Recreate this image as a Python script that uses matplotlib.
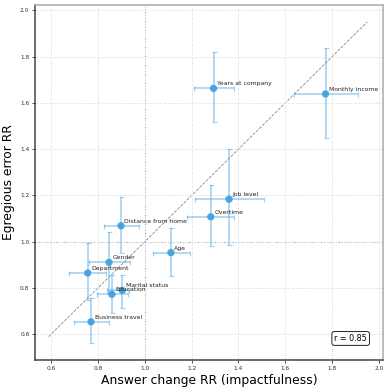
import matplotlib
matplotlib.use('Agg')
import matplotlib.pyplot as plt
import numpy as np
from matplotlib.ticker import MultipleLocator

# features, answer-change RR (x) and egregious-error RR (y) with CI bounds
features = ['Years at company', 'Monthly income', 'Job level', 'Overtime',
            'Distance from home', 'Age', 'Gender', 'Department',
            'Marital status', 'Education', 'Business travel']
x_rr = [1.294, 1.772, 1.360, 1.282, 0.899, 1.112, 0.848, 0.757, 0.904, 0.860, 0.771]
x_lo = [1.210, 1.638, 1.215, 1.182, 0.827, 1.037, 0.763, 0.678, 0.838, 0.795, 0.698]
x_hi = [1.381, 1.912, 1.510, 1.382, 0.977, 1.193, 0.937, 0.835, 0.935, 0.930, 0.849]
y_rr = [1.663, 1.639, 1.184, 1.108, 1.069, 0.953, 0.911, 0.865, 0.790, 0.773, 0.654]
y_lo = [1.517, 1.448, 0.984, 0.981, 0.950, 0.853, 0.780, 0.750, 0.712, 0.690, 0.561]
y_hi = [1.821, 1.839, 1.399, 1.245, 1.194, 1.058, 1.043, 0.996, 0.855, 0.856, 0.755]
r_value = 0.85
diag = [0.59, 1.95]

x = np.array(x_rr)
y = np.array(y_rr)
xerr = np.array([x - np.array(x_lo), np.array(x_hi) - x])
yerr = np.array([y - np.array(y_lo), np.array(y_hi) - y])

fig = plt.figure(figsize=(3.89, 3.91), dpi=100)
ax = fig.add_axes([0.0907, 0.0793, 0.8931, 0.9077])

ax.grid(True, color='#e4e4e4', linestyle='--', linewidth=0.6, zorder=0)
ax.axvline(1.0, color='#999999', linestyle=':', linewidth=0.8, zorder=1)
ax.axhline(1.0, color='#999999', linestyle=':', linewidth=0.8, zorder=1)
ax.plot(diag, diag, color='#888888', linestyle='--', linewidth=0.6, zorder=1)

ax.errorbar(x, y, xerr=xerr, yerr=yerr, fmt='none', ecolor='#4ea5e0',
            alpha=0.5, elinewidth=1.2, capsize=1.8, capthick=0.9, zorder=2)
ax.scatter(x, y, s=28, color='#3d9de0', alpha=0.9, edgecolors='none', zorder=3)

for name, xi, yi in zip(features, x, y):
    ax.annotate(name, (xi, yi), xytext=(2.5, 1.5), textcoords='offset points',
                fontsize=4.4, va='bottom', ha='left', color='#222222')

ax.text(0.955, 0.048, 'r = %.2f' % r_value, transform=ax.transAxes,
        fontsize=5.8, ha='right', va='bottom',
        bbox=dict(boxstyle='round,pad=0.3', facecolor='white', edgecolor='#222222', linewidth=0.7))

ax.set_xlim(0.533, 2.016)
ax.set_ylim(0.489, 2.023)
ax.xaxis.set_major_locator(MultipleLocator(0.2))
ax.yaxis.set_major_locator(MultipleLocator(0.2))
ax.tick_params(labelsize=4.2, length=2.2, width=0.6, pad=2, colors='#333333')

for side in ['left', 'bottom']:
    ax.spines[side].set_color('#444444')
    ax.spines[side].set_linewidth(1.1)
for side in ['top', 'right']:
    ax.spines[side].set_color('#aaaaaa')
    ax.spines[side].set_linewidth(1.1)

ax.set_xlabel('Answer change RR (impactfulness)', fontsize=8.9, labelpad=2)
ax.set_ylabel('Egregious error RR', fontsize=8.9, labelpad=4)

fig.savefig('out.png', dpi=100)
